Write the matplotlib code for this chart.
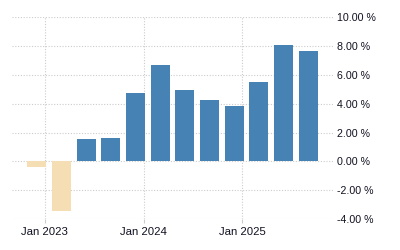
import matplotlib
matplotlib.use("Agg")
import matplotlib.pyplot as plt

# months relative to Jan 2023 (quarter-end months)
months = [-1, 2, 5, 8, 11, 14, 17, 20, 23, 26, 29, 32]
values = [-0.37, -3.43, 1.57, 1.64, 4.75, 6.69, 4.95, 4.26, 3.84, 5.51, 8.08, 7.66]
xtick_pos = [0, 12, 24]
xtick_labels = ["Jan 2023", "Jan 2024", "Jan 2025"]
yticks = [-4, -2, 0, 2, 4, 6, 8, 10]

plt.rcParams['font.family'] = ['Liberation Sans', 'DejaVu Sans']

fig = plt.figure(figsize=(4, 2.5), dpi=100)
ax = fig.add_axes([0.03, 0.124, 0.8025, 0.807])

colors = ['#4682B4' if v >= 0 else '#F5DEB3' for v in values]
ax.bar(months, values, width=2.3, color=colors, zorder=2)

ax.set_xlim(-4, 35)
ax.set_ylim(-4, 10)
ax.set_yticks(yticks)
ax.set_yticklabels([f"{v:.2f} %" for v in yticks])
ax.yaxis.tick_right()
ax.tick_params(axis='y', length=0, pad=3, labelsize=7.7, labelcolor='#111122')
ax.set_xticks(xtick_pos)
ax.set_xticklabels(xtick_labels)
ax.tick_params(axis='x', length=3, width=0.8, color='#cccccc', pad=3, labelsize=8.2, labelcolor='#111122')

ax.grid(True, color='#cccccc', linestyle=(0, (1, 1.5)), linewidth=0.8, zorder=0)
for s in ax.spines.values():
    s.set_visible(False)

fig.savefig("out.png", dpi=100)
